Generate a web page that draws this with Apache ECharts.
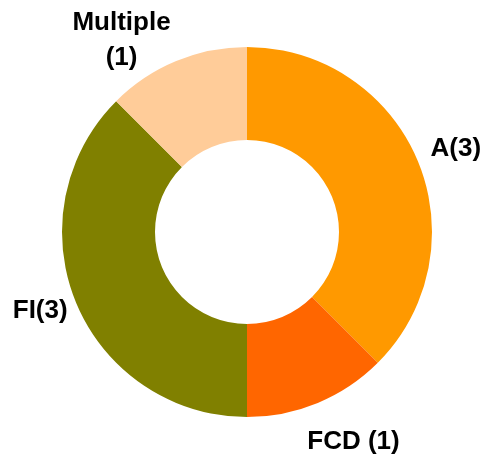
<!DOCTYPE html>
<html>
<head>
<meta charset="utf-8">
<script src="https://cdn.jsdelivr.net/npm/echarts@6/dist/echarts.min.js"></script>
<style>
  html, body { margin: 0; padding: 0; background: #ffffff; }
  #chart { width: 485px; height: 459px; }
</style>
</head>
<body>
<div id="chart"></div>
<script>
// ---- data ----
var categories = ['A', 'FCD', 'FI', 'Multiple'];
var values = [3, 1, 3, 1];
var labelTexts = ['A(3)', 'FCD (1)', 'FI(3)', 'Multiple\n(1)'];

// ---- styles ----
var colors = ['#FF9900', '#FF6600', '#808000', '#FFCC99'];
var CX = 247, CY = 232, R0 = 92, R1 = 185, LABEL_R = 226;
var labelNudge = [[0, 3], [20, 1], [2, -8], [-39, 17]];

var total = values.reduce(function (s, v) { return s + v; }, 0);
function midAngle(i) {
  var before = 0;
  for (var k = 0; k < i; k++) before += values[k];
  var mid = before + values[i] / 2;
  return Math.PI / 2 - (mid / total) * Math.PI * 2; // clockwise from top
}

var chart = echarts.init(document.getElementById('chart'), null, { renderer: 'canvas' });
chart.setOption({
  animation: false,
  backgroundColor: '#ffffff',
  series: [{
    type: 'pie',
    center: [CX, CY],
    radius: [R0, R1],
    startAngle: 90,
    clockwise: true,
    avoidLabelOverlap: false,
    data: categories.map(function (c, i) {
      return {
        name: c,
        value: values[i],
        itemStyle: { color: colors[i] },
        label: { formatter: labelTexts[i] }
      };
    }),
    itemStyle: { borderWidth: 0 },
    emphasis: { disabled: true },
    label: {
      show: true,
      position: 'outside',
      color: '#000000',
      fontFamily: 'Liberation Sans, Arial, sans-serif',
      fontWeight: 'bold',
      fontSize: 26,
      lineHeight: 35,
      align: 'center'
    },
    labelLine: { show: false },
    labelLayout: function (params) {
      var i = params.dataIndex;
      var a = midAngle(i);
      return {
        x: CX + LABEL_R * Math.cos(a) + labelNudge[i][0],
        y: CY - LABEL_R * Math.sin(a) + labelNudge[i][1],
        align: 'center',
        verticalAlign: 'middle'
      };
    }
  }]
});
</script>
</body>
</html>
